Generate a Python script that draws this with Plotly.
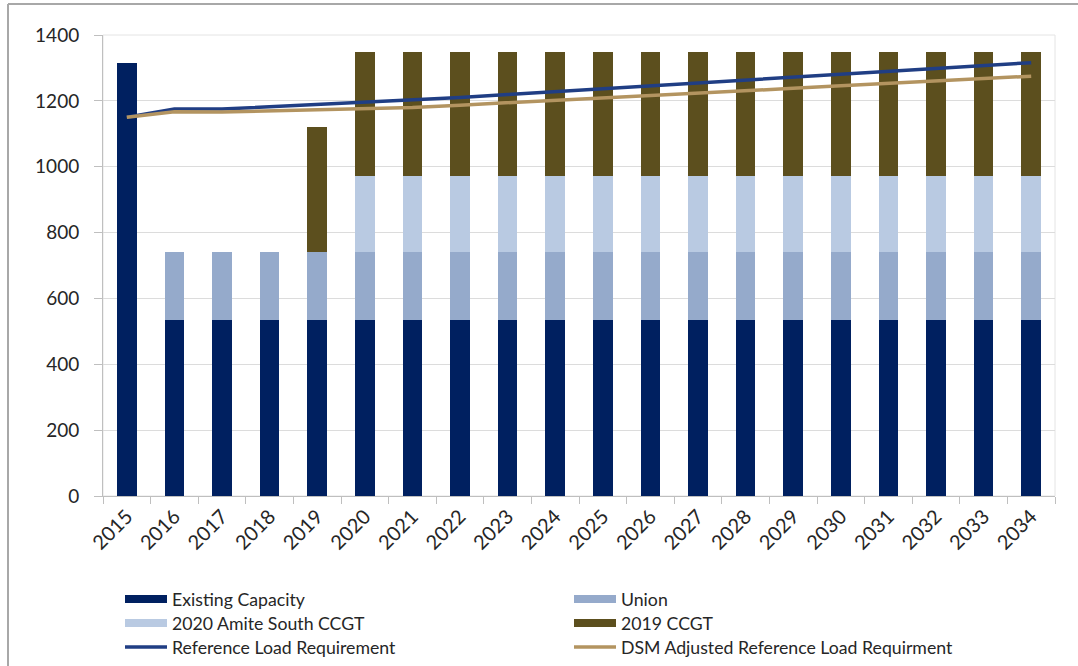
import plotly.graph_objects as go

# Planning years and resource stack (MW)
years = [str(y) for y in range(2015, 2035)]
existing_capacity = [1316] + [535] * 19
union = [0] + [205] * 19
amite_south_ccgt = [0] * 5 + [233] * 15
ccgt_2019 = [0] * 4 + [381] + [375] * 15

# Load requirement lines (MW)
reference_load = [1150, 1175, 1175, 1182, 1189, 1195, 1201, 1210, 1219, 1228,
                  1237, 1245, 1254, 1263, 1272, 1281, 1290, 1298, 1307, 1316]
dsm_adjusted_load = [1150, 1167, 1166, 1170, 1173, 1176, 1180, 1187, 1194, 1202,
                     1209, 1216, 1224, 1231, 1238, 1246, 1253, 1260, 1268, 1275]

y_ticks = [0, 200, 400, 600, 800, 1000, 1200, 1400]

C_EXIST = "#002060"
C_UNION = "#95AACB"
C_AMITE = "#B9CAE2"
C_CCGT = "#5C4F1E"
C_REF = "#203E84"
C_DSM = "#B39460"

W, H = 1078, 666
L, R, T, B = 103, 23, 35, 170
PW, PH = W - L - R, H - T - B

def px_x(x):
    return (x - L) / PW

def px_y(y):
    return (H - B - y) / PH

fig = go.Figure()
for name, vals, col in [("Existing Capacity", existing_capacity, C_EXIST),
                        ("Union", union, C_UNION),
                        ("2020 Amite South CCGT", amite_south_ccgt, C_AMITE),
                        ("2019 CCGT", ccgt_2019, C_CCGT)]:
    fig.add_trace(go.Bar(x=years, y=vals, name=name, marker_color=col,
                         marker_line_width=0, showlegend=False))

fig.add_trace(go.Scatter(x=years, y=reference_load, mode="lines",
                         name="Reference Load Requirement",
                         line=dict(color=C_REF, width=3.5), showlegend=False))
fig.add_trace(go.Scatter(x=years, y=dsm_adjusted_load, mode="lines",
                         name="DSM Adjusted Reference Load Requirment",
                         line=dict(color=C_DSM, width=3.5), showlegend=False))

font_family = "Lato, 'Open Sans', sans-serif"

shapes = []
annotations = []

# Plot area frame
shapes.append(dict(type="rect", xref="paper", yref="paper", x0=0, x1=1, y0=0, y1=1,
                   line=dict(color="#E4E4E4", width=1), layer="below"))
# Outer chart border (top and left edges)
shapes.append(dict(type="line", xref="paper", yref="paper",
                   x0=px_x(8), x1=px_x(W + 5), y0=px_y(4), y1=px_y(4),
                   line=dict(color="#A8A8A8", width=2)))
shapes.append(dict(type="line", xref="paper", yref="paper",
                   x0=px_x(8), x1=px_x(8), y0=px_y(4), y1=px_y(H + 5),
                   line=dict(color="#A8A8A8", width=2)))

# Custom two-column legend
legend_items = [
    ("Existing Capacity", C_EXIST, "box", 125, 599),
    ("Union", C_UNION, "box", 574, 599),
    ("2020 Amite South CCGT", C_AMITE, "box", 125, 623),
    ("2019 CCGT", C_CCGT, "box", 574, 623),
    ("Reference Load Requirement", C_REF, "line", 125, 647),
    ("DSM Adjusted Reference Load Requirment", C_DSM, "line", 574, 647),
]
for label, col, kind, x0, yc in legend_items:
    if kind == "box":
        shapes.append(dict(type="rect", xref="paper", yref="paper",
                           x0=px_x(x0), x1=px_x(x0 + 42),
                           y0=px_y(yc - 4), y1=px_y(yc + 4),
                           fillcolor=col, line=dict(width=0)))
    else:
        shapes.append(dict(type="line", xref="paper", yref="paper",
                           x0=px_x(x0), x1=px_x(x0 + 42),
                           y0=px_y(yc), y1=px_y(yc),
                           line=dict(color=col, width=3.5)))
    annotations.append(dict(text=label, xref="paper", yref="paper",
                            x=px_x(x0 + 45), y=px_y(yc), xanchor="left", yanchor="middle",
                            showarrow=False, font=dict(family=font_family, size=17.7, color="#262626")))

fig.update_layout(
    width=W, height=H,
    margin=dict(l=L, r=R, t=T, b=B),
    paper_bgcolor="white", plot_bgcolor="white",
    barmode="stack", bargap=0.59,
    showlegend=False,
    shapes=shapes, annotations=annotations,
    font=dict(family=font_family, size=18, color="#262626"),
)
fig.update_xaxes(type="category", tickangle=-45, ticks="outside", tickson="boundaries",
                 ticklen=7, tickcolor="#BFBFBF", showline=True, linecolor="#BFBFBF",
                 linewidth=1, showgrid=False, tickfont=dict(size=20))
fig.update_yaxes(range=[0, 1400], tickvals=y_ticks, ticks="outside", ticklen=8,
                 tickcolor="#BFBFBF", showline=True, linecolor="#BFBFBF",
                 showgrid=True, gridcolor="#DCDCDC", gridwidth=1, zeroline=False,
                 ticklabelstandoff=11, tickfont=dict(size=19))

fig.write_html("out.html")
